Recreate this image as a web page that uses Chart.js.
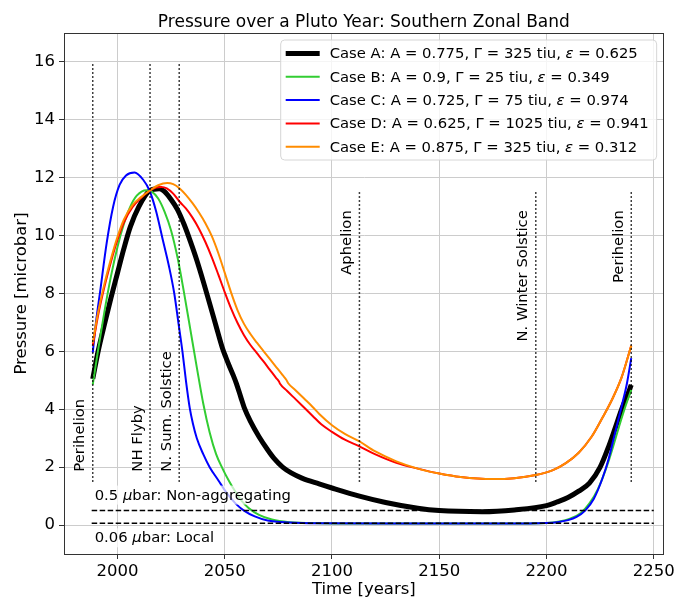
<!DOCTYPE html>
<html>
<head>
<meta charset="utf-8">
<script src="https://cdn.jsdelivr.net/npm/chart.js@4.4.0/dist/chart.umd.min.js"></script>
<style>
  html, body { margin: 0; padding: 0; background: #fff; }
  #wrap { width: 678px; height: 601px; }
</style>
</head>
<body>
<div id="wrap"><canvas id="pluto-pressure" width="678" height="601"></canvas></div>
<script>
const FONT = '"DejaVu Sans", "Liberation Sans", sans-serif';
const TITLE = 'Pressure over a Pluto Year: Southern Zonal Band';

// Case A: A = 0.775, Gamma = 325 tiu, eps = 0.625
const yearsA = [1988.5, 1991, 1994, 1997, 2000, 2003, 2006, 2010, 2015, 2019.5, 2022, 2025, 2028, 2031, 2034, 2037, 2040, 2043, 2046, 2049, 2050.5, 2052, 2054, 2055.5, 2057.5, 2059.3, 2062, 2066, 2070, 2073, 2077, 2081, 2086, 2094, 2100, 2112.8, 2125, 2140, 2150, 2170, 2185, 2200, 2205, 2210, 2215, 2220, 2225, 2229, 2232, 2235, 2237.5, 2239.5];
const presA = [5.05, 6.0, 6.95, 7.85, 8.7, 9.55, 10.3, 11.0, 11.55, 11.62, 11.52, 11.25, 10.9, 10.4, 9.8, 9.15, 8.42, 7.65, 6.87, 6.1, 5.8, 5.52, 5.17, 4.88, 4.42, 4.02, 3.58, 3.05, 2.6, 2.3, 2.0, 1.8, 1.62, 1.42, 1.28, 1.0, 0.78, 0.58, 0.5, 0.46, 0.52, 0.67, 0.8, 0.95, 1.17, 1.45, 2.0, 2.72, 3.35, 4.0, 4.45, 4.84];

// Case B
const yearsB = [1988.5, 1991, 1994, 1997, 2000, 2003, 2006, 2009, 2013.5, 2016, 2019, 2022, 2025, 2028, 2031, 2034, 2037, 2040, 2043, 2046, 2049, 2052, 2055, 2058, 2061, 2066, 2072, 2080, 2095, 2130, 2180, 2200, 2206, 2211, 2216, 2220, 2224, 2228, 2231, 2234, 2237, 2239.5];
const presB = [4.85, 6.05, 7.4, 8.6, 9.6, 10.4, 11.0, 11.38, 11.57, 11.52, 11.28, 10.82, 10.18, 9.25, 8.05, 6.75, 5.45, 4.2, 3.2, 2.45, 1.95, 1.52, 1.15, 0.83, 0.6, 0.35, 0.19, 0.1, 0.065, 0.05, 0.05, 0.07, 0.12, 0.22, 0.42, 0.75, 1.25, 2.0, 2.7, 3.45, 4.15, 4.67];

// Case C
const yearsC = [1988.5, 1990, 1992, 1995, 1998, 2001, 2004, 2008, 2012, 2015, 2018, 2021, 2024, 2026.5, 2028.5, 2030.3, 2032, 2033.7, 2035.2, 2037, 2040, 2043, 2047, 2051, 2055, 2059, 2064, 2070, 2080, 2095, 2130, 2180, 2200, 2205, 2210, 2214, 2218, 2222, 2226, 2229, 2232, 2235, 2237.5, 2239.5];
const presC = [5.96, 7.0, 8.1, 9.75, 11.0, 11.75, 12.08, 12.18, 11.93, 11.55, 10.85, 9.9, 8.95, 8.0, 6.95, 6.0, 4.95, 4.05, 3.5, 3.0, 2.45, 2.0, 1.55, 1.1, 0.75, 0.5, 0.3, 0.16, 0.09, 0.06, 0.05, 0.05, 0.07, 0.1, 0.17, 0.28, 0.5, 0.9, 1.6, 2.3, 3.2, 4.1, 4.9, 5.77];

// Case D
const yearsD = [1988.5, 1991, 1994, 1997, 2000, 2003, 2007, 2011, 2015, 2018, 2020.5, 2023, 2026, 2029, 2032, 2035, 2038, 2041, 2044, 2047, 2050, 2053, 2056, 2059, 2062, 2065, 2068, 2071, 2074, 2075.3, 2075.8, 2079, 2083, 2087, 2091, 2095, 2100, 2106, 2112.8, 2120, 2130, 2140, 2150, 2160, 2175, 2185, 2195, 2203, 2209, 2215, 2221, 2226, 2230.5, 2235, 2239.5];
const presD = [6.2, 7.25, 8.25, 9.1, 9.85, 10.45, 10.98, 11.3, 11.55, 11.66, 11.68, 11.63, 11.45, 11.17, 10.93, 10.62, 10.24, 9.78, 9.25, 8.66, 8.05, 7.48, 6.98, 6.56, 6.22, 5.94, 5.66, 5.37, 5.08, 4.96, 4.88, 4.64, 4.35, 4.06, 3.77, 3.48, 3.22, 2.95, 2.72, 2.45, 2.15, 1.95, 1.78, 1.66, 1.59, 1.62, 1.73, 1.9, 2.14, 2.5, 3.05, 3.7, 4.33, 5.1, 6.2];

// Case E
const yearsE = [1988.5, 1991, 1994, 1997, 2000, 2003, 2007, 2011, 2015, 2019, 2023.2, 2026, 2029, 2032, 2035, 2038, 2041, 2044, 2047, 2050, 2053, 2056, 2059, 2062, 2065, 2068, 2071, 2074, 2077, 2078.7, 2079.6, 2083, 2087, 2091, 2094.2, 2100, 2106, 2112.8, 2120, 2130, 2140, 2150, 2160, 2175, 2185, 2195, 2203, 2209, 2215, 2221, 2226, 2230.5, 2235, 2239.5];
const presE = [6.3, 7.35, 8.35, 9.2, 9.95, 10.55, 11.05, 11.33, 11.55, 11.74, 11.82, 11.78, 11.63, 11.4, 11.12, 10.8, 10.43, 9.98, 9.4, 8.72, 8.03, 7.42, 6.95, 6.6, 6.3, 6.02, 5.74, 5.46, 5.18, 5.02, 4.9, 4.66, 4.37, 4.08, 3.83, 3.45, 3.15, 2.89, 2.55, 2.2, 1.95, 1.78, 1.66, 1.59, 1.62, 1.73, 1.9, 2.14, 2.5, 3.05, 3.7, 4.33, 5.1, 6.2];

const caseLabels = [
  'Case A: A = 0.775, Γ = 325 tiu, ε = 0.625',
  'Case B: A = 0.9, Γ = 25 tiu, ε = 0.349',
  'Case C: A = 0.725, Γ = 75 tiu, ε = 0.974',
  'Case D: A = 0.625, Γ = 1025 tiu, ε = 0.941',
  'Case E: A = 0.875, Γ = 325 tiu, ε = 0.312'
];
const caseColors = ['#000000', '#32cd32', '#0000ff', '#ff0000', '#ff8c00'];
const caseWidths = [5, 2, 2, 2, 2];

// orbital / mission events
const eventNames = ['Perihelion', 'NH Flyby', 'N. Sum. Solstice', 'Aphelion', 'N. Winter Solstice', 'Perihelion'];
const eventYears = [1988.5, 2015.2, 2028.8, 2112.8, 2195, 2239.5];
const eventTops = [16, 16, 16, 11.5, 11.5, 11.5];
const eventBottom = 1.5;

// aggregation thresholds
const limitValues = [0.5, 0.06];
const limitLabels = ['0.5 μbar: Non-aggregating', '0.06 μbar: Local'];
const limitStart = 1988;
const limitEnd = 2250;

const xTicks = [2000, 2050, 2100, 2150, 2200, 2250];
const yTicks = [0, 2, 4, 6, 8, 10, 12, 14, 16];

function pts(xs, ys) {
  return xs.map((x, i) => ({ x: x, y: ys[i] }));
}

const caseData = [pts(yearsA, presA), pts(yearsB, presB), pts(yearsC, presC), pts(yearsD, presD), pts(yearsE, presE)];

let datasets = [];
caseData.forEach(function (data, i) {
  datasets.push({
    label: caseLabels[i],
    isCase: true,
    data: data,
    borderColor: caseColors[i],
    borderWidth: caseWidths[i],
    cubicInterpolationMode: 'monotone',
    order: 10 - i
  });
});
eventYears.forEach(function (yr, i) {
  datasets.push({
    label: eventNames[i],
    data: [{ x: yr, y: eventBottom }, { x: yr, y: eventTops[i] }],
    borderColor: '#000',
    borderWidth: 1.5,
    borderDash: [1.5, 2.5],
    tension: 0,
    order: 1
  });
});
limitValues.forEach(function (v, i) {
  datasets.push({
    label: limitLabels[i],
    data: [{ x: limitStart, y: v }, { x: limitEnd, y: v }],
    borderColor: '#000',
    borderWidth: 1.5,
    borderDash: [5.5, 2.5],
    tension: 0,
    order: 1
  });
});

// text with the greek letters set in italic, like mathtext
function richWidth(ctx, text, size) {
  let w = 0;
  text.split(/([με])/).forEach(function (part) {
    if (!part) return;
    ctx.font = (part === 'μ' || part === 'ε' ? 'italic ' : '') + size + 'px ' + FONT;
    w += ctx.measureText(part).width;
  });
  return w;
}
function richText(ctx, text, x, y, size) {
  let cx = x;
  text.split(/([με])/).forEach(function (part) {
    if (!part) return;
    ctx.font = (part === 'μ' || part === 'ε' ? 'italic ' : '') + size + 'px ' + FONT;
    ctx.fillText(part, cx, y);
    cx += ctx.measureText(part).width;
  });
}

// axes box + title centred over the plot area
const frame = {
  id: 'frame',
  afterDraw(chart) {
    const a = chart.chartArea, ctx = chart.ctx;
    ctx.save();
    ctx.strokeStyle = '#333';
    ctx.lineWidth = 1;
    ctx.strokeRect(Math.round(a.left) + 0.5, Math.round(a.top) + 0.5, Math.round(a.right - a.left) - 1, Math.round(a.bottom - a.top));
    ctx.fillStyle = '#000';
    ctx.font = '17px ' + FONT;
    ctx.textAlign = 'center';
    ctx.textBaseline = 'alphabetic';
    ctx.fillText(TITLE, (a.left + a.right) / 2, a.top - 6);
    ctx.restore();
  }
};

const annotations = {
  id: 'annotations',
  afterDatasetsDraw(chart) {
    const ctx = chart.ctx, xs = chart.scales.x, ys = chart.scales.y;
    ctx.save();
    ctx.fillStyle = '#000';
    ctx.textBaseline = 'alphabetic';
    ctx.font = '14.8px ' + FONT;
    eventYears.forEach(function (yr, i) {
      const px = xs.getPixelForValue(yr) - 8.5;
      const left = eventTops[i] > 12;
      const py = left ? ys.getPixelForValue(eventBottom) - 10 : ys.getPixelForValue(eventTops[i]) + 18;
      ctx.save();
      ctx.translate(px, py);
      ctx.rotate(-Math.PI / 2);
      ctx.textAlign = left ? 'left' : 'right';
      ctx.fillText(eventNames[i], 0, 0);
      ctx.restore();
    });
    ctx.textAlign = 'left';
    limitValues.forEach(function (v, i) {
      const x = xs.getPixelForValue(limitStart) + 3;
      const y = i === 0 ? ys.getPixelForValue(v) - 11 : ys.getPixelForValue(v) + 19;
      const w = richWidth(ctx, limitLabels[i], 14.8);
      ctx.fillStyle = 'rgba(255,255,255,0.7)';
      ctx.fillRect(x - 3, y - 14, w + 6, 19);
      ctx.fillStyle = '#000';
      richText(ctx, limitLabels[i], x, y, 14.8);
    });
    ctx.restore();
  }
};

const caseLegend = {
  id: 'caseLegend',
  afterDraw(chart) {
    const ctx = chart.ctx, a = chart.chartArea;
    const cases = chart.data.datasets.filter(d => d.isCase);
    const size = 14.8, rowH = 23.3, handle = 34;
    let maxW = 0;
    cases.forEach(d => { maxW = Math.max(maxW, richWidth(ctx, d.label, size)); });
    const w = 5 + handle + 10 + maxW + 8;
    const h = cases.length * rowH + 3.5;
    const x0 = a.right - 7 - w, y0 = a.top + 7;
    ctx.save();
    const r = 4;
    ctx.beginPath();
    ctx.moveTo(x0 + r, y0);
    ctx.lineTo(x0 + w - r, y0);
    ctx.arcTo(x0 + w, y0, x0 + w, y0 + r, r);
    ctx.lineTo(x0 + w, y0 + h - r);
    ctx.arcTo(x0 + w, y0 + h, x0 + w - r, y0 + h, r);
    ctx.lineTo(x0 + r, y0 + h);
    ctx.arcTo(x0, y0 + h, x0, y0 + h - r, r);
    ctx.lineTo(x0, y0 + r);
    ctx.arcTo(x0, y0, x0 + r, y0, r);
    ctx.closePath();
    ctx.fillStyle = 'rgba(255,255,255,0.8)';
    ctx.fill();
    ctx.strokeStyle = '#d6d6d6';
    ctx.lineWidth = 1;
    ctx.stroke();
    ctx.textBaseline = 'middle';
    ctx.textAlign = 'left';
    cases.forEach(function (d, i) {
      const cy = y0 + 13.5 + i * rowH;
      ctx.beginPath();
      ctx.moveTo(x0 + 5, cy);
      ctx.lineTo(x0 + 5 + handle, cy);
      ctx.strokeStyle = d.borderColor;
      ctx.lineWidth = d.borderWidth;
      ctx.stroke();
      ctx.fillStyle = '#000';
      richText(ctx, d.label, x0 + 5 + handle + 10, cy + 1, size);
    });
    ctx.restore();
  }
};

const tickFont = { family: FONT, size: 16.5 };

new Chart(document.getElementById('pluto-pressure'), {
  type: 'line',
  data: { datasets: datasets },
  options: {
    responsive: false,
    animation: false,
    devicePixelRatio: 1,
    layout: { padding: { left: 0, right: 13, top: 33, bottom: 0 } },
    elements: { point: { radius: 0 } },
    plugins: {
      legend: { display: false },
      tooltip: { enabled: false },
      title: { display: false }
    },
    scales: {
      x: {
        type: 'linear',
        min: 1975.1,
        max: 2254.6,
        afterBuildTicks: s => { s.ticks = xTicks.map(v => ({ value: v })); },
        afterFit: s => { s.height = 47; },
        grid: { color: '#cccccc', tickColor: '#333', tickLength: 5 },
        border: { color: '#333' },
        ticks: { color: '#000', font: tickFont, padding: 3, maxRotation: 0, callback: v => String(v) },
        title: { display: true, text: 'Time [years]', color: '#000', font: tickFont, padding: { top: 0, bottom: 1 } }
      },
      y: {
        type: 'linear',
        min: -1,
        max: 17,
        afterBuildTicks: s => { s.ticks = yTicks.map(v => ({ value: v })); },
        afterFit: s => { s.width = 64; },
        grid: { color: '#cccccc', tickColor: '#333', tickLength: 5 },
        border: { color: '#333' },
        ticks: { color: '#000', font: tickFont, padding: 4, callback: v => String(v) },
        title: { display: true, text: 'Pressure [microbar]', color: '#000', font: tickFont, padding: { top: 12, bottom: 0 } }
      }
    }
  },
  plugins: [frame, annotations, caseLegend]
});
</script>
</body>
</html>
